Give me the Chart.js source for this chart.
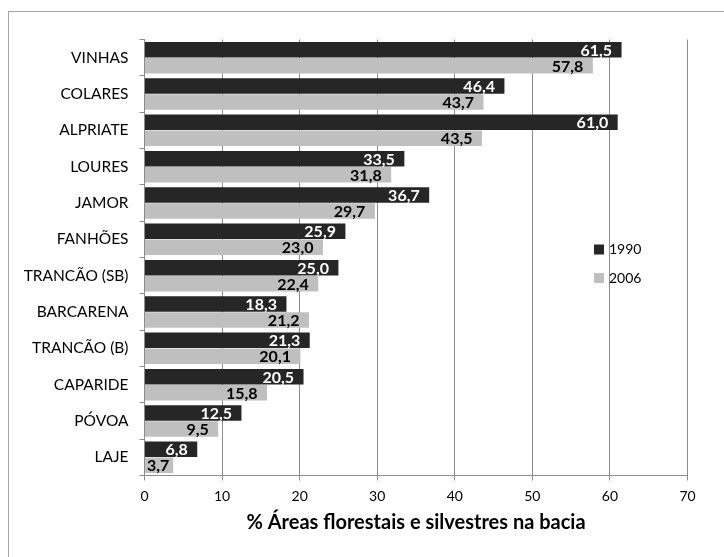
<!DOCTYPE html>
<html>
<head>
<meta charset="utf-8">
<style>
  html, body { margin: 0; padding: 0; background: #ffffff; }
  canvas { display: block; }
</style>
<script src="https://cdn.jsdelivr.net/npm/chart.js@4/dist/chart.umd.min.js"></script>
</head>
<body>
<canvas id="chart" width="724" height="557"></canvas>
<script>
// Bacias hidrográficas (eixo das categorias)
const bacias = ['VINHAS', 'COLARES', 'ALPRIATE', 'LOURES', 'JAMOR', 'FANHÕES',
  'TRANCÃO (SB)', 'BARCARENA', 'TRANCÃO (B)', 'CAPARIDE', 'PÓVOA', 'LAJE'];

// % de áreas florestais e silvestres por ano
const anos = ['1990', '2006'];
const valores1990 = [61.5, 46.4, 61.0, 33.5, 36.7, 25.9, 25.0, 18.3, 21.3, 20.5, 12.5, 6.8];
const valores2006 = [57.8, 43.7, 43.5, 31.8, 29.7, 23.0, 22.4, 21.2, 20.1, 15.8, 9.5, 3.7];

// Eixo dos valores
const xMin = 0, xMax = 70, xPasso = 10;
const tituloEixo = '% Áreas florestais e silvestres na bacia';

const FONT = "Lato, 'Open Sans', sans-serif";
const COR_1990 = '#262626';
const COR_2006 = '#bfbfbf';
const COR_GRELHA = '#8c8c8c';

const fmt = v => v.toFixed(1).replace('.', ',');

// Moldura exterior do gráfico
const moldura = {
  id: 'moldura',
  beforeDraw(chart) {
    const ctx = chart.ctx;
    ctx.save();
    ctx.fillStyle = '#ffffff';
    ctx.fillRect(0, 0, chart.width, chart.height);
    ctx.strokeStyle = '#a6a6a6';
    ctx.lineWidth = 1;
    ctx.strokeRect(8.5, 11.5, chart.width + 20, chart.height + 20);
    ctx.restore();
  }
};

// Rótulos de valor no extremo interior de cada barra
// (nas barras curtas o texto encosta ao início da barra)
const rotulos = {
  id: 'rotulos',
  afterDatasetsDraw(chart) {
    const ctx = chart.ctx;
    ctx.save();
    ctx.font = 'bold 16px ' + FONT;
    ctx.textAlign = 'right';
    ctx.textBaseline = 'middle';
    chart.data.datasets.forEach((ds, i) => {
      const meta = chart.getDatasetMeta(i);
      ctx.fillStyle = i === 0 ? '#ffffff' : '#000000';
      meta.data.forEach((bar, j) => {
        const txt = fmt(ds.data[j]);
        const w = ctx.measureText(txt).width;
        const xd = Math.max(bar.x - 9.5, bar.base + 2 + w);
        ctx.fillText(txt, xd, bar.y + 1);
      });
    });
    ctx.restore();
  }
};

// Legenda à direita, dentro da área do gráfico
const legenda = {
  id: 'legenda',
  afterDraw(chart) {
    const ctx = chart.ctx;
    ctx.save();
    ctx.font = '14px ' + FONT;
    ctx.textAlign = 'left';
    ctx.textBaseline = 'middle';
    chart.data.datasets.forEach((ds, i) => {
      const y = 249.5 + i * 28.5;
      ctx.fillStyle = ds.backgroundColor;
      ctx.fillRect(594, y - 5, 10, 10);
      ctx.fillStyle = '#000000';
      ctx.fillText(ds.label, 609, y);
    });
    ctx.restore();
  }
};

new Chart(document.getElementById('chart'), {
  type: 'bar',
  data: {
    labels: bacias,
    datasets: [
      { label: anos[0], data: valores1990, backgroundColor: COR_1990 },
      { label: anos[1], data: valores2006, backgroundColor: COR_2006 }
    ]
  },
  options: {
    indexAxis: 'y',
    responsive: false,
    animation: false,
    devicePixelRatio: 1,
    categoryPercentage: 0.88,
    barPercentage: 0.97,
    layout: { padding: { left: 0, top: 39.5, right: 36.5, bottom: 0 } },
    plugins: {
      legend: { display: false },
      tooltip: { enabled: false }
    },
    scales: {
      x: {
        type: 'linear',
        min: xMin,
        max: xMax,
        ticks: { stepSize: xPasso, color: '#000000', padding: 8, font: { family: FONT, size: 14 } },
        grid: { color: COR_GRELHA, tickLength: 5, lineWidth: 1 },
        border: { color: COR_GRELHA, width: 1 },
        title: {
          display: true,
          text: tituloEixo,
          color: '#000000',
          font: { family: FONT, size: 20, weight: 'bold' },
          padding: { top: 0, bottom: 22 }
        },
        afterFit(scale) { scale.height = 81.5; }
      },
      y: {
        type: 'category',
        ticks: { color: '#000000', padding: 11, font: { family: FONT, size: 15.5 } },
        grid: { display: true, drawOnChartArea: false, offset: true, tickLength: 5, color: COR_GRELHA },
        border: { color: COR_GRELHA, width: 1 },
        afterFit(scale) { scale.width = 144.5; }
      }
    }
  },
  plugins: [moldura, rotulos, legenda]
});
</script>
</body>
</html>
